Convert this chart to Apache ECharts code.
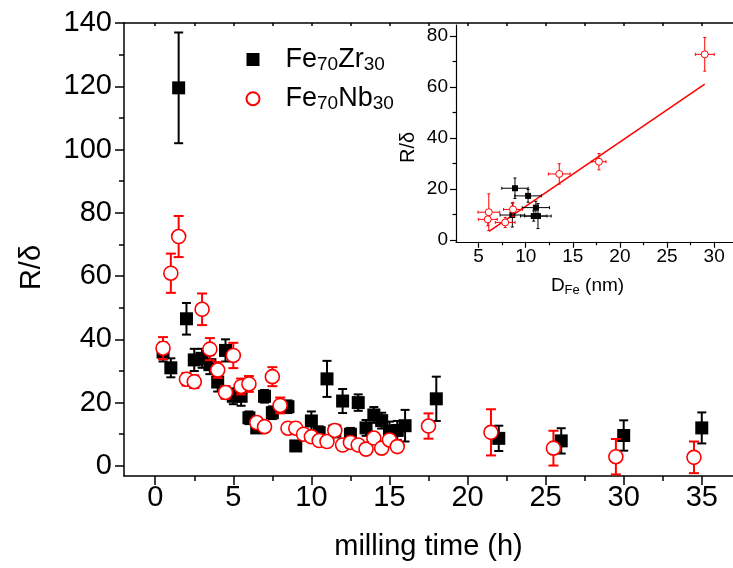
<!DOCTYPE html>
<html>
<head>
<meta charset="utf-8">
<title>R/δ vs milling time</title>
<script src="https://cdn.jsdelivr.net/npm/echarts@6/dist/echarts.min.js"></script>
<style>
  html, body { margin: 0; padding: 0; background: #fff; }
  #main { width: 733px; height: 568px; }
</style>
</head>
<body>
<div id="main"></div>
<script>
// main plot, Fe70Zr30: milling time (h), R/δ, error
var zrTime = [0.5, 1, 1.5, 2, 2.5, 3, 3.5, 4, 4.5, 5, 5.5, 6, 6.5, 7, 7.5, 8.5, 9, 10, 10.5, 11, 11.5, 12, 12.5, 13, 13.5, 14, 14.5, 15, 15.5, 16, 18, 22, 26, 30, 35];
var zrVal  = [36, 31, 119.5, 46.5, 33.5, 34, 32, 26.5, 36.5, 22, 22, 15.2, 12, 22, 16.8, 18.7, 6.3, 14.2, 10.5, 27.5, 11, 20.5, 10, 20, 12, 16.1, 14.3, 11, 11.2, 12.7, 21.2, 8.7, 7.9, 9.6, 12];
var zrErr  = [3, 3, 17.5, 5, 3.5, 3, 3, 3, 3.5, 2.5, 3, 2, 1.5, 2, 2, 2, 1.5, 3, 2, 5.7, 2, 3.8, 2, 2.6, 2.5, 2.5, 2.5, 3, 3, 5, 7, 4, 4, 4.8, 4.9];

// main plot, Fe70Nb30
var nbTime = [0.5, 1, 1.5, 2, 2.5, 3, 3.5, 4, 4.5, 5, 5.5, 6, 6.5, 7, 7.5, 8, 8.5, 9, 9.5, 10, 10.5, 11, 11.5, 12, 12.5, 13, 13.5, 14, 14.5, 15, 15.5, 17.5, 21.5, 25.5, 29.5, 34.5];
var nbVal  = [37.2, 60.9, 72.5, 27.4, 26.6, 49.5, 36.9, 30.3, 23.2, 34.9, 25.1, 25.9, 13.7, 12.4, 28.2, 19.1, 11.9, 11.9, 10, 9.2, 8, 7.7, 11.2, 6.6, 7.4, 6.6, 5.3, 8.8, 5.6, 8.2, 6.1, 12.6, 10.6, 5.6, 2.9, 2.7];
var nbErr  = [3.5, 6.2, 6.5, 2, 2, 5, 3.5, 2.5, 2, 4, 2.5, 2.5, 1.5, 1.5, 3, 2.5, 1.5, 1.5, 1.5, 1.5, 1.5, 1, 1.5, 1, 1, 1, 1, 1, 1, 1.5, 1.5, 4, 7.3, 5.5, 5.6, 5];

// inset: D_Fe (nm), R/δ, x error, y error
var inZrD    = [8.86, 10.25, 11.08, 8.58, 10.85, 11.3];
var inZrR    = [20.3, 17.3, 12.7, 9.8, 9.4, 9.4];
var inZrDErr = [1.4, 1.4, 1.45, 1.3, 1.4, 1.4];
var inZrRErr = [4, 2.5, 2.5, 4.7, 2, 4.9];

var inNbD    = [29.0, 17.77, 13.56, 8.65, 6.08, 5.97, 7.82];
var inNbR    = [72.8, 30.7, 25.9, 12.0, 10.9, 8.1, 6.9];
var inNbDErr = [1.0, 0.75, 1.15, 1.0, 1.15, 1.0, 1.05];
var inNbRErr = [6.6, 3.2, 4, 2.8, 7.2, 2.5, 2];

// linear fit drawn in the inset
var fitD = [6.1, 29.0];
var fitR = [3.4, 61.1];

var mainXTicks = [0, 5, 10, 15, 20, 25, 30, 35];
var mainXMinor = [2.5, 7.5, 12.5, 17.5, 22.5, 27.5, 32.5];
var mainXTop   = [0, 2.5, 5, 7.5, 10, 12.5, 15, 17.5, 20, 22.5, 25, 27.5, 30, 32.5, 35];
var mainYTicks = [0, 20, 40, 60, 80, 100, 120, 140];
var mainYMinor = [10, 30, 50, 70, 90, 110, 130];
var inXTicks = [5, 10, 15, 20, 25, 30];
var inXMinor = [7.5, 12.5, 17.5, 22.5, 27.5];
var inYTicks = [0, 20, 40, 60, 80];
var inYMinor = [10, 30, 50, 70];

var FONT = 'Liberation Sans, Arial, sans-serif';

function zip() {
  var cols = Array.prototype.slice.call(arguments);
  return cols[0].map(function (v, i) {
    return cols.map(function (c) { return c[i]; });
  });
}

// vertical error bar with caps
function vErr(color, cap, width) {
  return function (params, api) {
    var x = api.value(0), y = api.value(1), e = api.value(2);
    var t = api.coord([x, y + e]), b = api.coord([x, y - e]);
    var st = { stroke: color, lineWidth: width };
    return {
      type: 'group', children: [
        { type: 'line', shape: { x1: t[0], y1: t[1], x2: b[0], y2: b[1] }, style: st },
        { type: 'line', shape: { x1: t[0] - cap, y1: t[1], x2: t[0] + cap, y2: t[1] }, style: st },
        { type: 'line', shape: { x1: b[0] - cap, y1: b[1], x2: b[0] + cap, y2: b[1] }, style: st }
      ]
    };
  };
}

// x and y error bars for the inset
function xyErr(color, cap, width) {
  return function (params, api) {
    var x = api.value(0), y = api.value(1), ex = api.value(2), ey = api.value(3);
    var t = api.coord([x, y + ey]), b = api.coord([x, y - ey]);
    var l = api.coord([x - ex, y]), r = api.coord([x + ex, y]);
    var st = { stroke: color, lineWidth: width };
    return {
      type: 'group', children: [
        { type: 'line', shape: { x1: t[0], y1: t[1], x2: b[0], y2: b[1] }, style: st },
        { type: 'line', shape: { x1: t[0] - cap, y1: t[1], x2: t[0] + cap, y2: t[1] }, style: st },
        { type: 'line', shape: { x1: b[0] - cap, y1: b[1], x2: b[0] + cap, y2: b[1] }, style: st },
        { type: 'line', shape: { x1: l[0], y1: l[1], x2: r[0], y2: r[1] }, style: st },
        { type: 'line', shape: { x1: l[0], y1: l[1] - cap, x2: l[0], y2: l[1] + cap }, style: st },
        { type: 'line', shape: { x1: r[0], y1: r[1] - cap, x2: r[0], y2: r[1] + cap }, style: st }
      ]
    };
  };
}

var lineStyle = { color: '#000', width: 1.5 };
var inLine = { color: '#000', width: 1.2 };
var lbl = { color: '#000', fontFamily: FONT, fontSize: 29 };
var inLbl = { color: '#000', fontFamily: FONT, fontSize: 19 };

var myChart = echarts.init(document.getElementById('main'), null, { renderer: 'canvas' });

var option = {
  animation: false,
  backgroundColor: '#fff',
  grid: [
    { left: 124, top: 23, width: 619, height: 453 },
    { left: 124, top: 23, width: 619, height: 453 },
    { left: 456, top: 25, width: 281.7, height: 216.8 },
    { left: 456, top: 25, width: 281.7, height: 216.8 }
  ],
  xAxis: [
    {
      gridIndex: 0, type: 'value', position: 'bottom', min: -2, max: 37,
      name: 'milling time (h)', nameLocation: 'middle', nameGap: 56,
      nameTextStyle: { color: '#000', fontFamily: FONT, fontSize: 29 },
      axisLine: { onZero: false, lineStyle: lineStyle },
      axisTick: { customValues: mainXTicks, length: 9, lineStyle: lineStyle },
      axisLabel: Object.assign({ customValues: mainXTicks, margin: 7 }, lbl),
      splitLine: { show: false }
    },
    {
      gridIndex: 0, type: 'value', position: 'top', min: -2, max: 37,
      axisLine: { onZero: false, lineStyle: lineStyle },
      axisTick: { customValues: mainXTop, length: 3, inside: true, lineStyle: lineStyle },
      axisLabel: { show: false },
      splitLine: { show: false }
    },
    {
      gridIndex: 1, type: 'value', position: 'bottom', min: -2, max: 37,
      axisLine: { show: false, onZero: false },
      axisTick: { customValues: mainXMinor, length: 5, lineStyle: lineStyle },
      axisLabel: { show: false },
      splitLine: { show: false }
    },
    {
      gridIndex: 2, type: 'value', position: 'bottom', min: 2.6, max: 32,
      name: '{a|D}{b|Fe}{a| (nm)}', nameLocation: 'middle', nameGap: 33,
      nameTextStyle: {
        padding: [0, 14, 0, 0],
        rich: {
          a: { color: '#000', fontFamily: FONT, fontSize: 19, lineHeight: 22 },
          b: { color: '#000', fontFamily: FONT, fontSize: 13, lineHeight: 8, verticalAlign: 'bottom' }
        }
      },
      axisLine: { onZero: false, lineStyle: inLine },
      axisTick: { customValues: inXTicks, length: 6, lineStyle: inLine },
      axisLabel: Object.assign({ customValues: inXTicks, margin: 5 }, inLbl),
      splitLine: { show: false }
    },
    {
      gridIndex: 3, type: 'value', position: 'bottom', min: 2.6, max: 32,
      axisLine: { show: false, onZero: false },
      axisTick: { customValues: inXMinor, length: 3.5, lineStyle: inLine },
      axisLabel: { show: false },
      splitLine: { show: false }
    }
  ],
  yAxis: [
    {
      gridIndex: 0, type: 'value', min: -3.2, max: 140,
      name: 'R/δ', nameLocation: 'middle', nameGap: 78,
      nameTextStyle: { color: '#000', fontFamily: FONT, fontSize: 29, padding: [0, 36, 0, 0] },
      axisLine: { onZero: false, lineStyle: lineStyle },
      axisTick: { customValues: mainYTicks, length: 9, lineStyle: lineStyle },
      axisLabel: Object.assign({ customValues: mainYTicks, margin: 12 }, lbl),
      splitLine: { show: false }
    },
    {
      gridIndex: 1, type: 'value', min: -3.2, max: 140,
      axisLine: { show: false, onZero: false },
      axisTick: { customValues: mainYMinor, length: 5, lineStyle: lineStyle },
      axisLabel: { show: false },
      splitLine: { show: false }
    },
    {
      gridIndex: 2, type: 'value', min: -0.7, max: 84.3,
      name: 'R/δ', nameLocation: 'middle', nameGap: 38,
      nameTextStyle: { color: '#000', fontFamily: FONT, fontSize: 20, padding: [0, 28, 0, 0] },
      axisLine: { onZero: false, lineStyle: inLine },
      axisTick: { customValues: inYTicks, length: 6, lineStyle: inLine },
      axisLabel: Object.assign({ customValues: inYTicks, margin: 8 }, inLbl),
      splitLine: { show: false }
    },
    {
      gridIndex: 3, type: 'value', min: -0.7, max: 84.3,
      axisLine: { show: false, onZero: false },
      axisTick: { customValues: inYMinor, length: 3.5, lineStyle: inLine },
      axisLabel: { show: false },
      splitLine: { show: false }
    }
  ],
  legend: {
    data: ['Fe70Zr30', 'Fe70Nb30'],
    orient: 'vertical', left: 240.5, top: 41,
    itemWidth: 13, itemHeight: 13, itemGap: 10.7,
    formatter: function (n) {
      return n === 'Fe70Zr30' ? '{s|}{a|Fe}{b|70}{a|Zr}{b|30}' : '{s|}{a|Fe}{b|70}{a|Nb}{b|30}';
    },
    textStyle: {
      rich: {
        s: { width: 21 },
        a: { color: '#000', fontFamily: FONT, fontSize: 27, lineHeight: 30 },
        b: { color: '#000', fontFamily: FONT, fontSize: 19, lineHeight: 10, verticalAlign: 'bottom' }
      }
    }
  },
  series: [
    {
      name: 'zrErr', type: 'custom', xAxisIndex: 0, yAxisIndex: 0, z: 2,
      renderItem: vErr('#000', 4.5, 2), encode: { x: 0, y: 1 },
      data: zip(zrTime, zrVal, zrErr)
    },
    {
      name: 'Fe70Zr30', type: 'scatter', xAxisIndex: 0, yAxisIndex: 0, z: 3,
      symbol: 'rect', symbolSize: 13, itemStyle: { color: '#000', opacity: 1 },
      data: zip(zrTime, zrVal)
    },
    {
      name: 'nbErr', type: 'custom', xAxisIndex: 0, yAxisIndex: 0, z: 4,
      renderItem: vErr('#ff0000', 5, 2), encode: { x: 0, y: 1 },
      data: zip(nbTime, nbVal, nbErr)
    },
    {
      name: 'Fe70Nb30', type: 'scatter', xAxisIndex: 0, yAxisIndex: 0, z: 5,
      symbol: 'circle', symbolSize: 14,
      itemStyle: { color: '#fff', borderColor: '#ff0000', borderWidth: 1.6, opacity: 1 },
      data: zip(nbTime, nbVal)
    },
    {
      name: 'fit', type: 'line', xAxisIndex: 3, yAxisIndex: 2, z: 2,
      showSymbol: false, symbol: 'none',
      lineStyle: { color: '#ff0000', width: 1.5 },
      data: zip(fitD, fitR)
    },
    {
      name: 'inZrErr', type: 'custom', xAxisIndex: 3, yAxisIndex: 2, z: 3,
      renderItem: xyErr('#000', 1.5, 1), encode: { x: 0, y: 1 },
      data: zip(inZrD, inZrR, inZrDErr, inZrRErr)
    },
    {
      name: 'inZr', type: 'scatter', xAxisIndex: 3, yAxisIndex: 2, z: 4,
      symbol: 'rect', symbolSize: 6, itemStyle: { color: '#000', opacity: 1 },
      data: zip(inZrD, inZrR)
    },
    {
      name: 'inNbErr', type: 'custom', xAxisIndex: 3, yAxisIndex: 2, z: 5,
      renderItem: xyErr('#ff0000', 1.5, 1), encode: { x: 0, y: 1 },
      data: zip(inNbD, inNbR, inNbDErr, inNbRErr)
    },
    {
      name: 'inNb', type: 'scatter', xAxisIndex: 3, yAxisIndex: 2, z: 6,
      symbol: 'circle', symbolSize: 7,
      itemStyle: { color: '#fff', borderColor: '#ff0000', borderWidth: 1, opacity: 1 },
      data: zip(inNbD, inNbR)
    }
  ]
};

myChart.setOption(option);
</script>
</body>
</html>
